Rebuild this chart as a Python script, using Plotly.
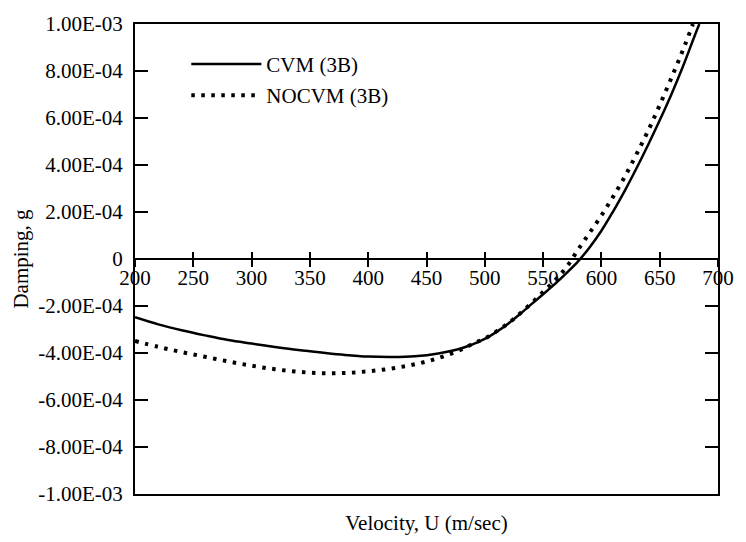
import plotly.graph_objects as go

# ---- data ----
u_cvm = [200, 220, 240, 260, 280, 300, 320, 340, 360, 380, 400, 420, 440, 460, 480,
         490, 500, 510, 520, 530, 540, 550, 560, 570, 580, 590, 600, 610, 620, 630,
         640, 650, 660, 670, 680, 684]
g_cvm = [-2.48e-4, -2.78e-4, -3.03e-4, -3.25e-4, -3.45e-4, -3.60e-4, -3.74e-4, -3.87e-4,
         -3.98e-4, -4.08e-4, -4.15e-4, -4.17e-4, -4.14e-4, -4.02e-4, -3.80e-4,
         -3.62e-4, -3.40e-4, -3.10e-4, -2.75e-4, -2.35e-4, -1.92e-4, -1.50e-4,
         -1.07e-4, -0.60e-4, -0.10e-4, 0.50e-4, 1.20e-4, 2.02e-4, 2.90e-4, 3.85e-4,
         4.85e-4, 5.90e-4, 7.00e-4, 8.20e-4, 9.50e-4, 1.00e-3]

u_nocvm = [200, 220, 240, 260, 280, 300, 320, 340, 360, 380, 400, 420, 440, 460, 480,
           490, 500, 510, 520, 530, 540, 550, 560, 570, 580, 590, 600, 610, 620, 630,
           640, 650, 660, 670, 678.5]
g_nocvm = [-3.49e-4, -3.74e-4, -3.96e-4, -4.16e-4, -4.36e-4, -4.54e-4, -4.69e-4, -4.80e-4,
           -4.86e-4, -4.85e-4, -4.78e-4, -4.66e-4, -4.48e-4, -4.22e-4, -3.85e-4,
           -3.60e-4, -3.38e-4, -3.08e-4, -2.74e-4, -2.33e-4, -1.88e-4, -1.40e-4,
           -0.92e-4, -0.35e-4, 0.40e-4, 1.12e-4, 1.85e-4, 2.65e-4, 3.50e-4, 4.45e-4,
           5.45e-4, 6.55e-4, 7.70e-4, 8.90e-4, 1.00e-3]

x_ticks = [200, 250, 300, 350, 400, 450, 500, 550, 600, 650, 700]
y_ticks = [-1e-3, -8e-4, -6e-4, -4e-4, -2e-4, 0, 2e-4, 4e-4, 6e-4, 8e-4, 1e-3]
y_ticktext = ["-1.00E-03", "-8.00E-04", "-6.00E-04", "-4.00E-04", "-2.00E-04", "0",
              "2.00E-04", "4.00E-04", "6.00E-04", "8.00E-04", "1.00E-03"]

FONT = "Liberation Serif"
FS = 21

fig = go.Figure()
fig.add_trace(go.Scatter(x=u_cvm, y=g_cvm, mode="lines", name="CVM (3B)",
                         legendgroup="a", line=dict(color="black", width=2.5, shape="spline")))
fig.add_trace(go.Scatter(x=u_nocvm, y=g_nocvm, mode="lines", name="NOCVM (3B)",
                         legendgroup="b",
                         line=dict(color="black", width=4, dash="3.5px,6.5px", shape="spline")))
# helper traces so the extra x axes are drawn
fig.add_trace(go.Scatter(x=u_cvm, y=g_cvm, xaxis="x2", mode="lines", showlegend=False,
                         hoverinfo="skip", line=dict(width=0)))
fig.add_trace(go.Scatter(x=u_cvm, y=g_cvm, xaxis="x3", mode="lines", showlegend=False,
                         hoverinfo="skip", line=dict(width=0)))

common_x = dict(range=[200, 700], showgrid=False, zeroline=False)

fig.update_layout(
    width=746, height=542,
    margin=dict(l=135, r=19, t=18, b=48),
    paper_bgcolor="white", plot_bgcolor="white",
    font=dict(family=FONT, size=FS, color="black"),
    showlegend=True,
    legend=dict(x=0.088, y=0.958, xanchor="left", yanchor="top",
                bgcolor="rgba(0,0,0,0)", font=dict(size=FS, family=FONT),
                itemwidth=70, tracegroupgap=1, traceorder="grouped"),
    xaxis=dict(**common_x, anchor="free", position=0.5,
               showline=True, linecolor="black", linewidth=2,
               ticks="outside", ticklen=7, tickwidth=1.5, tickcolor="black",
               tickvals=x_ticks, ticktext=[str(v) for v in x_ticks],
               tickfont=dict(size=FS, family=FONT), ticklabelstandoff=-7),
    xaxis2=dict(**common_x, overlaying="x", anchor="free", position=0.5,
                showline=False, ticks="inside", ticklen=7, tickwidth=1.5,
                tickcolor="black", tickvals=x_ticks, showticklabels=False),
    xaxis3=dict(**common_x, overlaying="x", anchor="y", side="bottom",
                showline=True, mirror=True, linecolor="black", linewidth=2,
                ticks="", showticklabels=False,
                title=dict(text="Velocity, U (m/sec)", standoff=20,
                           font=dict(size=FS, family=FONT))),
    yaxis=dict(range=[-1e-3, 1e-3], showgrid=False, zeroline=False,
               showline=True, mirror="ticks", linecolor="black", linewidth=2,
               ticks="inside", ticklen=13, tickwidth=1.5, tickcolor="black",
               tickvals=y_ticks, ticktext=y_ticktext,
               tickfont=dict(size=FS, family=FONT), ticklabelstandoff=6,
               title=dict(text="Damping, g", standoff=4,
                          font=dict(size=FS, family=FONT))),
)

fig.write_html("out.html")
